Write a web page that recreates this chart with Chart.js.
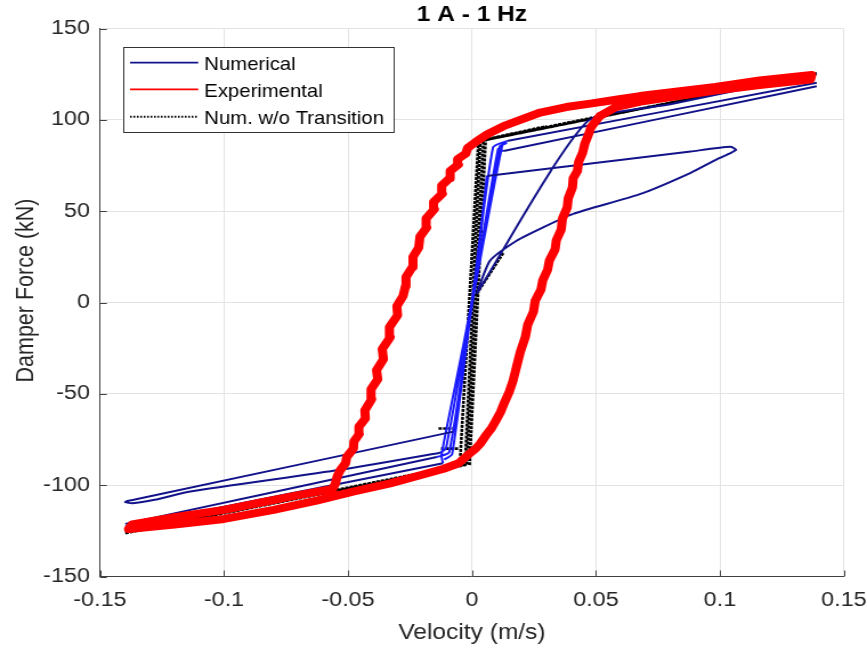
<!DOCTYPE html>
<html><head><meta charset="utf-8">
<script src="https://cdn.jsdelivr.net/npm/chart.js@4.4.1/dist/chart.umd.min.js"></script>
<style>html,body{margin:0;padding:0;background:#fff;overflow:hidden}</style></head>
<body><canvas id="c" width="760" height="651" style="display:block;width:867px;height:651px"></canvas>
<script>
// ---------- data ----------
const titleText = '1 A - 1 Hz';
const xAxisLabel = 'Velocity (m/s)';
const yAxisLabel = 'Damper Force (kN)';
const xTicks = [-0.15, -0.1, -0.05, 0, 0.05, 0.1, 0.15];
const xTickLabels = ['-0.15', '-0.1', '-0.05', '0', '0.05', '0.1', '0.15'];
const yTicks = [-150, -100, -50, 0, 50, 100, 150];
const yTickLabels = ['-150', '-100', '-50', '0', '50', '100', '150'];
const legendLabels = ['Numerical', 'Experimental', 'Num. w/o Transition'];

// Experimental (red) loop: left branch up, top out and back, right branch down, bottom out and back
const expX = [-0.0562,-0.0552,-0.0543,-0.0532,-0.0510,-0.0505,-0.0478,-0.0476,-0.0455,-0.0456,-0.0430,-0.0432,-0.0405,-0.0407,-0.0380,-0.0385,-0.0357,-0.0362,-0.0330,-0.0333,-0.0300,-0.0303,-0.0278,-0.0268,-0.0266,-0.0240,-0.0238,-0.0215,-0.0210,-0.0183,-0.0185,-0.0152,-0.0155,-0.0120,-0.0122,-0.0090,-0.0088,-0.0055,-0.0058,-0.0025,-0.0018,0.0016,
  0.0060,0.0135,0.0275,0.0380,0.0484,0.0580,0.0677,0.0830,0.0982,0.1160,0.1370,
  0.1365,0.1160,0.0980,0.0830,0.0680,0.0580,
  0.0515,0.0480,0.0470,0.0455,0.0446,0.0430,0.0425,0.0408,0.0405,0.0388,0.0384,0.0365,0.0360,0.0340,0.0335,0.0312,0.0305,0.0285,0.0278,0.0255,0.0248,0.0225,0.0215,0.0195,0.0180,0.0165,0.0150,0.0130,0.0115,0.0095,0.0078,0.0055,0.0035,0.0015,-0.0021,-0.0054,
  -0.0114,-0.0220,-0.0330,-0.0480,-0.0627,-0.0800,-0.1000,-0.1200,-0.1385,
  -0.1370,-0.1200,-0.1000,-0.0850,-0.0700,-0.0562];
const expY = [-102,-99.5,-95,-92,-88,-84.5,-80,-76,-72,-68,-63.5,-59,-53,-47.5,-42,-37,-31,-25.5,-19,-13.5,-7,-2,3.5,9,14,19.5,25,30,36,41,46,51,55,59.5,64,68,72,75.5,78.5,81.5,84.5,88,
  92,97,104,107,109,111,113,115.5,118,121.5,124.5,
  122,119,116,113,110,107,
  102,96,92,87,82,77,72,68,63,57,52,46,40,34,29,23,18,12,7,1,-5,-12,-19,-27,-35,-43,-49,-55,-60,-65,-69,-73,-77,-80,-84,-88,
  -91,-95,-99,-103.5,-108.5,-113.5,-118.5,-121.5,-124,
  -121.5,-117.5,-113.5,-109.5,-105.5,-102];

// Numerical (navy) segments, null separates segments
const numX = [0.0019,0.0073,0.0180,0.0285,0.0408,0.0677,0.0882,0.0987,0.1042,0.1065,0.1042,0.0882,0.0060,null,
  0.0019,0.0464,0.0800,0.1390,null,
  0.0127,0.1390,null,
  0.0141,0.1390,null,
  -0.0075,-0.1350,-0.1390,-0.1398,-0.1370,-0.1280,-0.1136,-0.0532,-0.0128,null,
  -0.1398,-0.0117,null,
  -0.1398,-0.0142];
const numY = [4.9,22.9,33.8,41,48.5,59.3,71,78.4,81.8,83.6,85.2,82.7,69.3,null,
  4.9,99,108.5,125.3,null,
  82.9,118.4,null,
  88.4,120.3,null,
  -70.7,-107.6,-108.7,-109.3,-109.9,-108,-103.5,-91.6,-82.2,null,
  -122.6,-88,null,
  -121.2,-84.6];

// Numerical transition lines (bright blue), null separates segments
const numTrX = [-0.0117,-0.0123,-0.0002,0.0085,0.0141,null,
  -0.0128,-0.0105,0.0000,0.0105,0.0127,null,
  -0.0142,-0.0092,0.0002,0.0122,0.0141,null,
  -0.0112,-0.0080,0.0001,0.0112,0.0135,null,
  -0.0075,0.0001,0.0060];
const numTrY = [-88,-83.5,0,85,88.4,null,
  -82.2,-80,0,84,82.9,null,
  -84.6,-82,0,86,87.5,null,
  -86,-83,0,85.5,87,null,
  -70.7,0,69.3];

// Num. w/o Transition (black dotted)
const noTrX = [-0.1398,-0.0028,0.0033,0.1390,null,
  0.1390,0.0026,-0.0048,-0.0034,-0.1398,null,
  -0.0021,0.0046,0.0600,null,
  -0.0010,0.0055,0.0300,null,
  0.0019,0.0127,null,
  -0.0135,-0.0065,null,
  -0.0125,-0.0055];
const noTrY = [-126.3,-89,88.4,125.6,null,
  125.3,88.2,-86.5,-88.6,-125.8,null,
  -88.6,89,104.4,null,
  -89,89.3,96.5,null,
  4.7,27.4,null,
  -69,-69,null,
  -80,-80];

// ---------- helpers ----------
const pts = (xs, ys) => xs.map((x, i) => ({x: x, y: ys[i]}));
const FONT = "'Liberation Sans', Arial, Helvetica, sans-serif";
const TXT = '#262626';
const NAVY = '#12128a';
const BLUE = '#1a1aff';
const RED = '#ff0000';

const deco = {
  id: 'deco',
  afterDraw(chart) {
    const ctx = chart.ctx, a = chart.chartArea;
    const xs = chart.scales.x, ys = chart.scales.y;
    ctx.save();
    ctx.strokeStyle = '#404040';
    ctx.lineWidth = 1;
    ctx.beginPath();
    xTicks.forEach(v => { const p = Math.round(xs.getPixelForValue(v)) + 0.5; ctx.moveTo(p, a.bottom); ctx.lineTo(p, a.bottom - 6); });
    yTicks.forEach(v => { const p = Math.round(ys.getPixelForValue(v)) + 0.5; ctx.moveTo(a.left, p); ctx.lineTo(a.left + 6, p); });
    ctx.stroke();
    ctx.fillStyle = '#000';
    ctx.font = 'bold 21.5px ' + FONT;
    ctx.textAlign = 'center';
    ctx.textBaseline = 'alphabetic';
    ctx.fillText(titleText, (a.left + a.right) / 2, 21);
    ctx.fillStyle = TXT;
    ctx.font = '21.5px ' + FONT;
    ctx.fillText(xAxisLabel, (a.left + a.right) / 2, 639);
    ctx.save();
    ctx.translate(29, 290.5);
    ctx.rotate(-Math.PI / 2);
    ctx.fillText(yAxisLabel, 0, 0);
    ctx.restore();
    const L = 107.6, T = 47.3, R = 344.8, B = 132.3;
    ctx.fillStyle = '#fff';
    ctx.fillRect(L, T, R - L, B - T);
    ctx.strokeStyle = '#333';
    ctx.lineWidth = 1;
    ctx.strokeRect(Math.round(L) + 0.5, Math.round(T) + 0.5, Math.round(R - L), Math.round(B - T));
    const rows = [62.7, 89.3, 116.7];
    const cols = [NAVY, RED, '#000'];
    rows.forEach((ry, i) => {
      ctx.beginPath();
      ctx.strokeStyle = cols[i];
      ctx.lineWidth = i === 2 ? 2 : 1.8;
      ctx.setLineDash(i === 2 ? [1.5, 1.5] : []);
      ctx.moveTo(114, ry); ctx.lineTo(173.8, ry);
      ctx.stroke();
      ctx.setLineDash([]);
      ctx.fillStyle = '#000';
      ctx.font = '17.8px ' + FONT;
      ctx.textAlign = 'left';
      ctx.textBaseline = 'alphabetic';
      ctx.fillText(legendLabels[i], 179.1, ry + 7.5);
    });
    ctx.restore();
  }
};

const chart = new Chart(document.getElementById('c'), {
  type: 'scatter',
  data: {
    datasets: [
      {label: legendLabels[1], data: pts(expX, expY), showLine: true, borderColor: RED, backgroundColor: RED,
        borderWidth: 8, pointRadius: 0, borderJoinStyle: 'round', borderCapStyle: 'round', tension: 0},
      {label: legendLabels[0], data: pts(numX, numY), showLine: true, borderColor: NAVY, backgroundColor: NAVY,
        borderWidth: 2, pointRadius: 0, spanGaps: false, tension: 0.2},
      {label: 'transition', data: pts(numTrX, numTrY), showLine: true, borderColor: BLUE, backgroundColor: BLUE,
        borderWidth: 2, pointRadius: 0, spanGaps: false, tension: 0.2},
      {label: legendLabels[2], data: pts(noTrX, noTrY), showLine: true, borderColor: '#000', backgroundColor: '#000',
        borderWidth: 2.6, borderDash: [3, 1], pointRadius: 0, spanGaps: false}
    ]
  },
  options: {
    responsive: false,
    animation: false,
    devicePixelRatio: 1,
    events: [],
    layout: {padding: {top: 28.5, right: 20.2, bottom: 0, left: 0}},
    plugins: {legend: {display: false}, tooltip: {enabled: false}, title: {display: false}},
    scales: {
      x: {
        type: 'linear', min: -0.15, max: 0.15,
        afterBuildTicks: s => { s.ticks = xTicks.map(v => ({value: v})); },
        afterFit: s => { s.height = 74.5; s.paddingLeft = 0; s.paddingRight = 0; },
        ticks: {callback: (v, i) => xTickLabels[i], font: {family: FONT, size: 20.5}, color: TXT, padding: 12, maxRotation: 0, autoSkip: false},
        grid: {color: '#e3e3e3', lineWidth: 1, drawTicks: false},
        border: {display: true, color: '#404040', width: 1}
      },
      y: {
        type: 'linear', min: -150, max: 150,
        afterBuildTicks: s => { s.ticks = yTicks.map(v => ({value: v})); },
        afterFit: s => { s.width = 87.66; },
        ticks: {callback: (v, i) => yTickLabels[i], font: {family: FONT, size: 20.5}, color: TXT, padding: 8.8, autoSkip: false},
        grid: {color: '#e3e3e3', lineWidth: 1, drawTicks: false},
        border: {display: true, color: '#404040', width: 1}
      }
    }
  },
  plugins: [deco]
});
chart.canvas.style.width = '867px';
chart.canvas.style.height = '651px';
</script></body></html>
